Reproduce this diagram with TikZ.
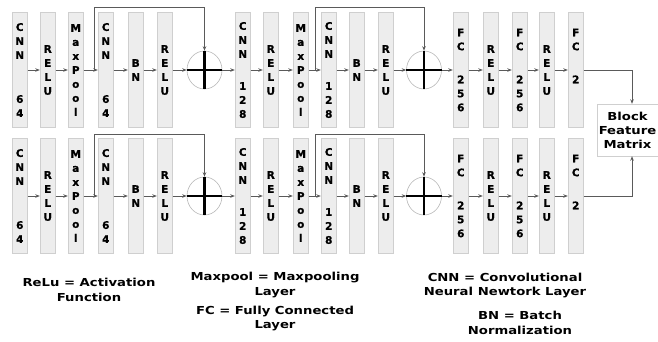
\documentclass[tikz,border=0pt]{standalone}
\usepackage{fontspec}
\usetikzlibrary{arrows.meta,shapes.geometric,calc}
\newfontfamily\boxfont{DejaVu Sans Bold}[FakeBold=0.6]
\newfontfamily\legfont{DejaVu Sans Bold}[FakeStretch=1.2]
\newfontfamily\bfmfont{DejaVu Sans Bold}[FakeStretch=1.2]
\definecolor{boxfill}{HTML}{EDEDED}
\definecolor{boxline}{HTML}{CFCFCF}
\definecolor{arrgray}{HTML}{5A5A5A}
\definecolor{circgray}{HTML}{B8B8B8}
\tikzset{
  layer/.style={draw=boxline, fill=boxfill, minimum width=15.5pt, minimum height=115pt,
    inner sep=0pt, align=center, font=\boxfont\fontsize{10.5}{14}\selectfont},
  arr/.style={draw=arrgray, line width=0.8pt, -{Stealth[length=4.5pt,width=3.5pt]}},
  sumnode/.style={ellipse, draw=circgray, line width=0.6pt, minimum width=35pt, minimum height=38pt, inner sep=0pt},
  cross/.style={line width=2.6pt, black},
  legend/.style={align=center, font=\legfont\fontsize{11}{14.5}\selectfont, inner sep=0pt},
  bfmbox/.style={draw=boxline, fill=white, minimum width=70pt, minimum height=52pt, inner sep=0pt},
  bfmtext/.style={align=center, inner sep=0pt, font=\bfmfont\fontsize{11}{14}\selectfont}
}
\begin{document}
\begin{tikzpicture}[x=1pt,y=-1pt]
\useasboundingbox (0,0) rectangle (658,341);
% ---------- Block feature matrix
\node[bfmbox] (bfm) at (632,130) {};
\node[bfmtext] (bfmlabel) at (627.5,130) {Block\\Feature\\Matrix};
% ---------- rows
\foreach \r/\yy/\st in {t/70/7, b/196/134}{
  \node[layer] (\r1) at (19.75,\yy) {C\\N\\N\\[30pt]6\\4};
  \node[layer] (\r2) at (47.75,\yy) {R\\E\\L\\U};
  \node[layer] (\r3) at (75.75,\yy) {M\\a\\x\\P\\o\\o\\l};
  \node[layer] (\r4) at (105.75,\yy) {C\\N\\N\\[30pt]6\\4};
  \node[layer] (\r5) at (135.75,\yy) {B\\N};
  \node[layer] (\r6) at (164.75,\yy) {R\\E\\L\\U};
  \node[sumnode] (\r c1) at (204.5,\yy) {};
  \node[layer] (\r7) at (242.75,\yy) {C\\N\\N\\[18pt]1\\2\\8};
  \node[layer] (\r8) at (270.75,\yy) {R\\E\\L\\U};
  \node[layer] (\r9) at (300.75,\yy) {M\\a\\x\\P\\o\\o\\l};
  \node[layer] (\r10) at (328.75,\yy) {C\\N\\N\\[18pt]1\\2\\8};
  \node[layer] (\r11) at (356.75,\yy) {B\\N};
  \node[layer] (\r12) at (385.75,\yy) {R\\E\\L\\U};
  \node[sumnode] (\r c2) at (424,\yy) {};
  \node[layer] (\r13) at (460.75,\yy) {F\\C\\[19pt]2\\5\\6};
  \node[layer] (\r14) at (490.75,\yy) {R\\E\\L\\U};
  \node[layer] (\r15) at (519.75,\yy) {F\\C\\[19pt]2\\5\\6};
  \node[layer] (\r16) at (546.75,\yy) {R\\E\\L\\U};
  \node[layer] (\r17) at (575.75,\yy) {F\\C\\[19pt]2\\\phantom{5}\\\phantom{6}};
  % crosses
  \draw[cross] (\r c1.north) -- (\r c1.south);
  \draw[cross] (\r c1.west) -- (\r c1.east);
  \draw[cross] (\r c2.north) -- (\r c2.south);
  \draw[cross] (\r c2.west) -- (\r c2.east);
  % chain arrows
  \foreach \a/\b in {1/2,2/3,3/4,4/5,5/6,7/8,8/9,9/10,10/11,11/12,13/14,14/15,15/16,16/17}{
    \draw[arr] (\r\a.east) -- (\r\b.west);
  }
  \draw[arr] (\r6.east) -- (\r c1.west);
  \draw[arr] (\r c1.east) -- (\r7.west);
  \draw[arr] (\r12.east) -- (\r c2.west);
  \draw[arr] (\r c2.east) -- (\r13.west);
  % skip connections
  \coordinate (\r s1) at (94,\yy);
  \coordinate (\r s1top) at (94,\st);
  \draw[arr] (\r s1) -- (\r s1top) -| (\r c1.north);
  \coordinate (\r s2) at (315,\yy);
  \coordinate (\r s2top) at (315,\st);
  \draw[arr] (\r s2) -- (\r s2top) -| (\r c2.north);
}
\draw[arr] (t17.east) -| (bfm.north);
\draw[arr] (b17.east) -| (bfm.south);
% ---------- legend
\node[legend] (l1) at (89,290) {ReLu = Activation\\Function};
\node[legend] (l2) at (275,285) {Maxpool = Maxpooling\\Layer};
\node[legend] (l3) at (275,318.5) {FC = Fully Connected\\Layer};
\node[legend] (l4) at (505,285.5) {CNN = Convolutional\\Neural Newtork Layer};
\node[legend] (l5) at (520,323) {BN = Batch\\Normalization};
\end{tikzpicture}
\end{document}
